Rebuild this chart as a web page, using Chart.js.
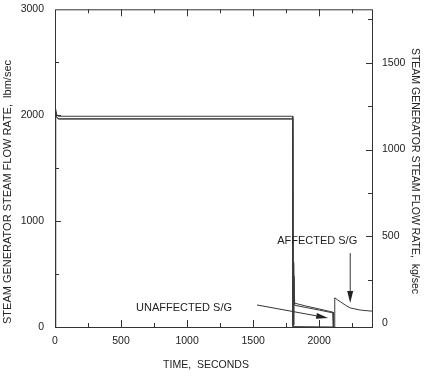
<!DOCTYPE html>
<html>
<head>
<meta charset="utf-8">
<style>
  html, body { margin: 0; padding: 0; background: #fff; }
  #wrap { width: 432px; height: 376px; }
</style>
<script src="https://cdn.jsdelivr.net/npm/chart.js@4.4.1/dist/chart.umd.min.js"></script>
</head>
<body>
<div id="wrap"><canvas id="sgFlow" width="432" height="376"></canvas></div>
<script>
(() => {
    'use strict';

    // tick labels
    const xTicks = [0, 500, 1000, 1500, 2000];
    const yTicks = [0, 1000, 2000, 3000];
    const y2Ticks = [0, 500, 1000, 1500];

    // affected steam generator, lbm/sec
    const aTime = [0, 3, 6, 12, 25, 1000, 1799, 1801, 2115, 2118, 2140, 2160, 2200, 2235, 2311, 2386, 2400];
    const aFlow = [0, 1700, 2060, 2010, 1990, 1990, 1990, 4, 0, 276, 255, 239, 205, 180, 160, 151, 150];

    // unaffected steam generators (two traces, nearly on top of each other)
    const u1Time = [0, 3, 6, 12, 25, 1000, 1800, 1802, 1807, 1812, 1900, 2000, 2105, 2108];
    const u1Flow = [0, 1650, 2030, 1985, 1965, 1965, 1965, 20, 610, 226, 198, 170, 140, 0];
    const u2Time = [0, 3, 6, 12, 25, 1000, 1800, 1803, 1809, 1815, 1900, 2000, 2105, 2108];
    const u2Flow = [0, 1650, 2030, 1985, 1965, 1965, 1965, 20, 480, 205, 184, 160, 133, 0];

    const ink = '#333';
    const font = '"Liberation Sans", Arial, Helvetica, sans-serif';

    const toPoints = (ts, vs) => ts.map((t, i) => ({ x: t, y: vs[i] }));
    const line = (label, data) => ({
        label, data, borderColor: '#3a3a3a', borderWidth: 1,
        pointRadius: 0, tension: 0, fill: false
    });

    // labels + arrows, anchored in data units (time s, lbm/sec)
    const notes = [
        { text: 'UNAFFECTED S/G', t: 614, v: 179, from: [1530, 208], to: [2068, 85] },
        { text: 'AFFECTED S/G', t: 1682, v: 811, from: [2235, 698], to: [2235, 226] }
    ];

    const arrow = (ctx, x1, y1, x2, y2) => {
        const ang = Math.atan2(y2 - y1, x2 - x1);
        const len = 12, half = 3;
        ctx.beginPath();
        ctx.moveTo(x1, y1);
        ctx.lineTo(x2 - Math.cos(ang) * len, y2 - Math.sin(ang) * len);
        ctx.stroke();
        ctx.beginPath();
        ctx.moveTo(x2, y2);
        ctx.lineTo(x2 - Math.cos(ang) * len - Math.sin(ang) * half, y2 - Math.sin(ang) * len + Math.cos(ang) * half);
        ctx.lineTo(x2 - Math.cos(ang) * len + Math.sin(ang) * half, y2 - Math.sin(ang) * len - Math.cos(ang) * half);
        ctx.closePath();
        ctx.fill();
    };

    const decor = {
        id: 'decor',
        afterDraw(chart) {
            const { ctx, chartArea: a, scales } = chart;
            const { x, y, y2 } = scales;
            ctx.save();
            ctx.strokeStyle = ink;
            ctx.fillStyle = '#222';
            ctx.lineWidth = 1;

            // frame
            ctx.strokeRect(a.left + 0.5, a.top + 0.5, a.right - a.left, a.bottom - a.top);

            // inward tick marks
            ctx.beginPath();
            for (let t = 250; t < 2400; t += 250) {
                const px = Math.round(x.getPixelForValue(t)) + 0.5;
                const len = t % 500 === 0 ? 7 : 4;
                ctx.moveTo(px, a.bottom); ctx.lineTo(px, a.bottom - len);
                ctx.moveTo(px, a.top); ctx.lineTo(px, a.top + len);
            }
            for (let v = 500; v < 3000; v += 500) {
                const py = Math.round(y.getPixelForValue(v)) + 0.5;
                const len = v % 1000 === 0 ? 6 : 4;
                ctx.moveTo(a.left, py); ctx.lineTo(a.left + len, py);
            }
            for (let v = 250; v < 1800; v += 250) {
                const py = Math.round(y2.getPixelForValue(v)) + 0.5;
                const len = v % 500 === 0 ? 6 : 4;
                ctx.moveTo(a.right, py); ctx.lineTo(a.right - len, py);
            }
            ctx.stroke();

            // axis titles
            ctx.font = '10.5px ' + font;
            ctx.textAlign = 'center';
            ctx.textBaseline = 'middle';
            ctx.fillText('TIME,  SECONDS', 206, 365);
            ctx.save();
            ctx.translate(415, 171);
            ctx.rotate(Math.PI / 2);
            ctx.fillText('STEAM GENERATOR STEAM FLOW RATE,  kg/sec', 0, 0);
            ctx.restore();
            ctx.save();
            ctx.font = '11px ' + font;
            ctx.translate(8, 192);
            ctx.rotate(-Math.PI / 2);
            ctx.fillText('STEAM GENERATOR STEAM FLOW RATE,  lbm/sec', 0, 0);
            ctx.restore();

            // annotations
            ctx.font = '11px ' + font;
            ctx.textAlign = 'left';
            notes.forEach(n => {
                ctx.fillText(n.text, x.getPixelForValue(n.t), y.getPixelForValue(n.v));
                arrow(ctx,
                    x.getPixelForValue(n.from[0]), y.getPixelForValue(n.from[1]),
                    x.getPixelForValue(n.to[0]), y.getPixelForValue(n.to[1]));
            });
            ctx.restore();
        }
    };

    const tickFont = { family: font, size: 10.5 };
    const plain = v => String(v);

    new Chart(document.getElementById('sgFlow'), {
        type: 'line',
        data: {
            datasets: [
                line('Affected S/G', toPoints(aTime, aFlow)),
                line('Unaffected S/G 1', toPoints(u1Time, u1Flow)),
                line('Unaffected S/G 2', toPoints(u2Time, u2Flow))
            ]
        },
        options: {
            responsive: false,
            animation: false,
            layout: { padding: { top: 9, left: 0, right: 0, bottom: 0 } },
            plugins: { legend: { display: false }, tooltip: { enabled: false } },
            scales: {
                x: {
                    type: 'linear', position: 'bottom', min: 0, max: 2400,
                    afterBuildTicks: s => { s.ticks = xTicks.map(v => ({ value: v })); },
                    afterFit: s => { s.height = 49; },
                    grid: { display: false }, border: { display: false },
                    ticks: { font: tickFont, color: '#222', padding: 0, maxRotation: 0, callback: plain }
                },
                y: {
                    position: 'left', min: 0, max: 3000,
                    afterBuildTicks: s => { s.ticks = yTicks.map(v => ({ value: v })); },
                    afterFit: s => { s.width = 55; },
                    grid: { display: false }, border: { display: false },
                    ticks: { font: tickFont, color: '#222', padding: 3, callback: plain }
                },
                y2: {
                    position: 'right', min: -21, max: 1807,
                    afterBuildTicks: s => { s.ticks = y2Ticks.map(v => ({ value: v })); },
                    afterFit: s => { s.width = 60; },
                    grid: { display: false }, border: { display: false },
                    ticks: { font: tickFont, color: '#222', padding: 2, callback: plain }
                }
            }
        },
        plugins: [decor]
    });
})();
</script>
</body>
</html>
